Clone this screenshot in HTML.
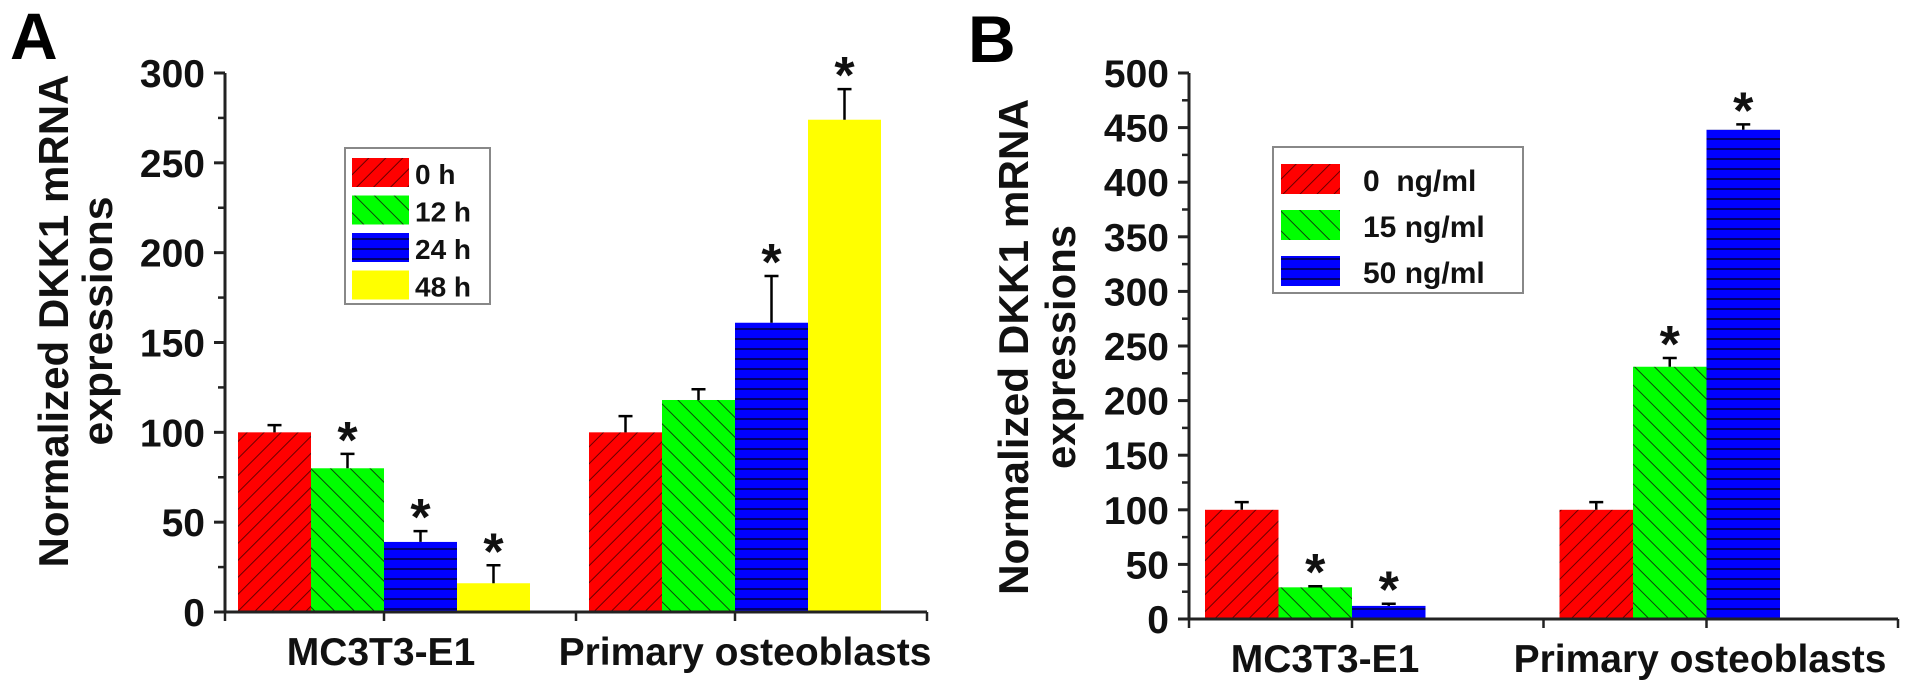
<!DOCTYPE html>
<html><head><meta charset="utf-8"><style>
html,body{margin:0;padding:0;background:#fff;}
svg{display:block;font-family:"Liberation Sans",Arial,sans-serif;font-weight:bold;}
.pre{white-space:pre;}
</style></head><body>
<svg id="fig" width="1913" height="687" viewBox="0 0 1913 687" xmlns="http://www.w3.org/2000/svg">
<defs>
<pattern id="hRed" patternUnits="userSpaceOnUse" width="12" height="12" patternTransform="rotate(45)">
<rect width="12" height="12" fill="#ff0000"/><line x1="0" y1="0" x2="0" y2="12" stroke="#6a0000" stroke-width="2"/></pattern>
<pattern id="hGreen" patternUnits="userSpaceOnUse" width="14" height="14" patternTransform="rotate(-45)">
<rect width="14" height="14" fill="#00ff00"/><line x1="0" y1="0" x2="0" y2="14" stroke="#0a4a0a" stroke-width="2"/></pattern>
<pattern id="hBlue" patternUnits="userSpaceOnUse" width="10" height="10">
<rect width="10" height="10" fill="#0000ff"/><line x1="0" y1="9" x2="10" y2="9" stroke="#00004a" stroke-width="1.6"/></pattern>
<pattern id="hYellow" patternUnits="userSpaceOnUse" width="10" height="10">
<rect width="10" height="10" fill="#ffff00"/></pattern>
</defs>
<g id="pa"></g>
<g id="pb"></g>
</svg>
<script>
// Panel A data
const aCategories = ["MC3T3-E1", "Primary osteoblasts"];
const aSeriesNames = ["0 h", "12 h", "24 h", "48 h"];
const aValues0h = [100, 100];
const aValues12h = [80, 118];
const aValues24h = [39, 161];
const aValues48h = [16, 274];
const aErr0h = [4, 9];
const aErr12h = [8, 6];
const aErr24h = [6, 26];
const aErr48h = [10, 17];
const aSig0h = [false, false];
const aSig12h = [true, false];
const aSig24h = [true, true];
const aSig48h = [true, true];
const aTicks = [0, 50, 100, 150, 200, 250, 300];
// Panel B data
const bCategories = ["MC3T3-E1", "Primary osteoblasts"];
const bSeriesNames = ["0  ng/ml", "15 ng/ml", "50 ng/ml"];
const bValues0 = [100, 100];
const bValues15 = [29, 231];
const bValues50 = [12, 448];
const bErr0 = [7, 7];
const bErr15 = [1, 8];
const bErr50 = [2, 5];
const bSig0 = [false, false];
const bSig15 = [true, true];
const bSig50 = [true, true];
const bTicks = [0, 50, 100, 150, 200, 250, 300, 350, 400, 450, 500];

const NS = "http://www.w3.org/2000/svg";
function mk(parent, tag, attrs, text) {
  const e = document.createElementNS(NS, tag);
  for (const k in attrs) e.setAttribute(k, attrs[k]);
  if (text !== undefined) e.textContent = text;
  parent.appendChild(e);
  return e;
}

function drawPanel(g, cfg) {
  const y = v => cfg.y0 - (v - 0) * (cfg.y0 - cfg.yTop) / cfg.yMax;
  const nC = cfg.cats.length;
  const groupW = (cfg.xEnd - cfg.x0) / nC;
  const barW = cfg.barW;
  const groupLeft = c => cfg.x0 + c * groupW + cfg.groupPad;
  cfg.series.forEach((s, si) => {
    cfg.cats.forEach((cat, ci) => {
      const v = s.values[ci];
      const bx = groupLeft(ci) + si * barW;
      const r = mk(g, "rect", {x: bx, y: y(v), width: barW, height: cfg.y0 - y(v), fill: "url(#" + s.pat + ")"});
      
      
      const cx = bx + barW / 2, te = y(v + s.err[ci]);
      const eb = mk(g, "path", {d: "M" + cx + " " + y(v) + "V" + te + "M" + (cx - 7) + " " + te + "H" + (cx + 7), stroke: "#000", "stroke-width": 2.5, fill: "none"});
      
      
      if (s.sig[ci]) {
        const st = mk(g, "text", {x: cx, y: te + 4, "text-anchor": "middle", "font-size": 52, fill: "#111"}, "*");
        
        
      }
    });
  });
  const ax = mk(g, "path", {d: "M" + cfg.x0 + " " + cfg.yTop + "V" + cfg.y0 + "H" + cfg.xEnd, stroke: "#222", "stroke-width": 3, fill: "none"});
  
  
  cfg.ticks.forEach((t, i) => {
    mk(g, "line", {x1: cfg.x0 - 11, x2: cfg.x0, y1: y(t), y2: y(t), stroke: "#222", "stroke-width": 3});
    const lb = mk(g, "text", {x: cfg.x0 - 20, y: y(t) + 14, "text-anchor": "end", "font-size": 39, fill: "#111"}, String(t));
    
    
    if (i < cfg.ticks.length - 1) {
      const m = (t + cfg.ticks[i + 1]) / 2;
      mk(g, "line", {x1: cfg.x0 - 7, x2: cfg.x0, y1: y(m), y2: y(m), stroke: "#222", "stroke-width": 2.5});
    }
  });
  for (let c = 0; c <= nC; c++) {
    const xt = cfg.x0 + c * groupW;
    mk(g, "line", {x1: xt, x2: xt, y1: cfg.y0, y2: cfg.y0 + 9, stroke: "#222", "stroke-width": 2.5});
  }
  cfg.cats.forEach((cat, ci) => {
    const xt = groupLeft(ci) + cfg.centerBars * barW;
    mk(g, "line", {x1: xt, x2: xt, y1: cfg.y0, y2: cfg.y0 + 9, stroke: "#222", "stroke-width": 2.5});
    const lb = mk(g, "text", {x: cfg.labelX[ci], y: cfg.y0 + 53, "text-anchor": "middle", "font-size": 39, fill: "#111"}, cat);
    
    
  });
  const t1 = mk(g, "text", {transform: "translate(" + cfg.titleX1 + "," + cfg.titleY + ") rotate(-90)", "text-anchor": "middle", "font-size": 42, fill: "#111", textLength: cfg.titleLen1, lengthAdjust: "spacingAndGlyphs"}, "Normalized DKK1 mRNA");
  
  
  const t2 = mk(g, "text", {transform: "translate(" + cfg.titleX2 + "," + cfg.titleY + ") rotate(-90)", "text-anchor": "middle", "font-size": 42, fill: "#111", textLength: cfg.titleLen2, lengthAdjust: "spacingAndGlyphs"}, "expressions");
  
  
  const pl = mk(g, "text", {x: cfg.letterX, y: cfg.letterY, "font-size": 66, fill: "#000"}, cfg.letter);
  
  
  const L = cfg.legend;
  const lg = mk(g, "g", {});
  
  
  mk(lg, "rect", {x: L.x, y: L.y, width: L.w, height: L.h, fill: "#fff", stroke: "#888", "stroke-width": 2});
  cfg.series.forEach((s, si) => {
    const ry = L.y + L.top + si * L.step;
    const sw = mk(lg, "rect", {x: L.x + L.sx, y: ry, width: L.sw, height: L.sh, fill: "url(#" + s.pat + ")"});
    
    
    const lt = mk(lg, "text", {x: L.x + L.tx, y: ry + L.sh - 3, "font-size": L.fs, fill: "#111", "class": "pre"}, s.name);
    
    
  });
}

drawPanel(document.getElementById("pa"), {
  id: "a", x0: 225, xEnd: 927, y0: 612, yTop: 73, yMax: 300, barW: 73, groupPad: 13, centerBars: 2,
  cats: aCategories, ticks: aTicks, labelX: [381, 745],
  series: [
    {name: aSeriesNames[0], values: aValues0h, err: aErr0h, sig: aSig0h, pat: "hRed"},
    {name: aSeriesNames[1], values: aValues12h, err: aErr12h, sig: aSig12h, pat: "hGreen"},
    {name: aSeriesNames[2], values: aValues24h, err: aErr24h, sig: aSig24h, pat: "hBlue"},
    {name: aSeriesNames[3], values: aValues48h, err: aErr48h, sig: aSig48h, pat: "hYellow"}],
  titleX1: 68, titleX2: 112, titleY: 321, titleLen1: 493, titleLen2: 249,
  letter: "A", letterX: 10, letterY: 59,
  legend: {x: 345, y: 148, w: 145, h: 156, top: 10, step: 37.5, sx: 7, sw: 57, sh: 29, tx: 70, fs: 28}
});
drawPanel(document.getElementById("pb"), {
  id: "b", x0: 1189, xEnd: 1898, y0: 619, yTop: 73, yMax: 500, barW: 73.5, groupPad: 16, centerBars: 2,
  cats: bCategories, ticks: bTicks, labelX: [1325, 1700],
  series: [
    {name: bSeriesNames[0], values: bValues0, err: bErr0, sig: bSig0, pat: "hRed"},
    {name: bSeriesNames[1], values: bValues15, err: bErr15, sig: bSig15, pat: "hGreen"},
    {name: bSeriesNames[2], values: bValues50, err: bErr50, sig: bSig50, pat: "hBlue"}],
  titleX1: 1028, titleX2: 1075, titleY: 347, titleLen1: 496, titleLen2: 244,
  letter: "B", letterX: 968, letterY: 62,
  legend: {x: 1273, y: 147, w: 250, h: 146, top: 17, step: 46, sx: 8, sw: 59, sh: 30, tx: 90, fs: 30}
});
</script>
</body></html>
